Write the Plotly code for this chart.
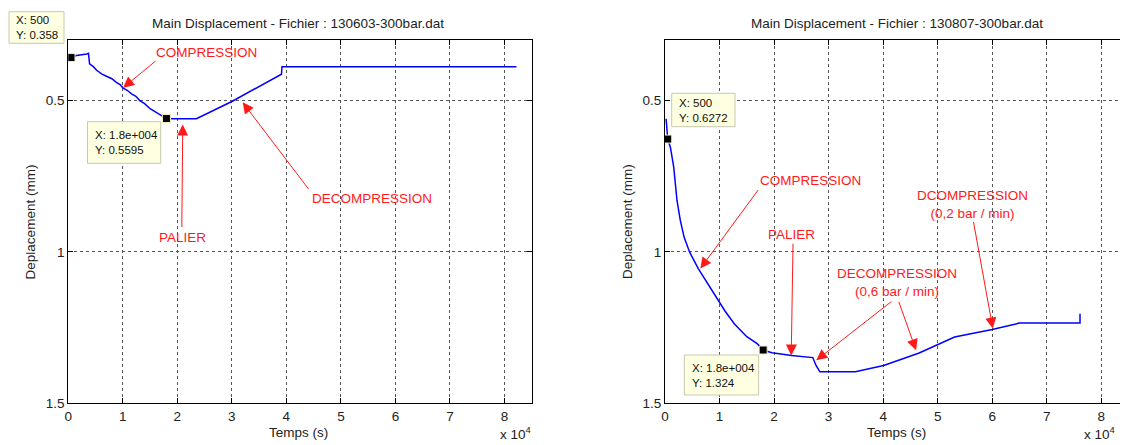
import plotly.graph_objects as go

# ---------------- data ----------------
# Left chart: 130603-300bar.dat  (time in s, displacement in mm)
left_time = [500, 1500, 3400, 3700, 3900, 4600, 5200, 6100, 6800, 7400, 8000,
             8800, 9500, 10000, 10800, 11600, 12400, 13100, 14000, 15000,
             16000, 17000, 18000, 19200, 23500, 30000, 39100, 39200, 82200]
left_disp = [0.358, 0.351, 0.346, 0.344, 0.379, 0.388, 0.400, 0.412, 0.418, 0.423, 0.428,
             0.440, 0.447, 0.458, 0.466, 0.478, 0.486, 0.500, 0.510, 0.527,
             0.537, 0.547, 0.5595, 0.560, 0.560, 0.503, 0.413, 0.388, 0.388]

# Right chart: 130807-300bar.dat
right_time = [200, 500, 1000, 1600, 2200, 2800, 3500, 4500, 6100, 8000, 9700,
              11000, 12700, 15000, 16900, 18000, 19600, 23200, 27100, 27700,
              28400, 34900, 40100, 46600, 53100, 60000, 65000, 76100, 76100]
right_disp = [0.56, 0.6272, 0.655, 0.72, 0.83, 0.895, 0.951, 1.0, 1.055, 1.11, 1.16,
              1.195, 1.237, 1.28, 1.303, 1.324, 1.333, 1.342, 1.349, 1.375,
              1.396, 1.396, 1.375, 1.334, 1.281, 1.256, 1.235, 1.235, 1.204]

# Data tips (MATLAB data cursors)
left_tip_time = [500, 18000]
left_tip_disp = [0.358, 0.5595]
left_tip_text = ["X: 500<br>Y: 0.358", "X: 1.8e+004<br>Y: 0.5595"]
right_tip_time = [500, 18000]
right_tip_disp = [0.6272, 1.324]
right_tip_text = ["X: 500<br>Y: 0.6272", "X: 1.8e+004<br>Y: 1.324"]

# Axis ticks
x_tick_vals = [0, 10000, 20000, 30000, 40000, 50000, 60000, 70000, 80000]
x_tick_text = ["0", "1", "2", "3", "4", "5", "6", "7", "8"]
y_tick_vals = [0.5, 1, 1.5]
y_tick_text = ["0.5", "1", "1.5"]

titles = ["Main Displacement - Fichier : 130603-300bar.dat",
          "Main Displacement - Fichier : 130807-300bar.dat"]
x_title = "Temps (s)"
y_title = "Deplacement (mm)"

# ---------------- layout helpers ----------------
# the page body has an 8px margin, so the figure is offset by (8, 8) in the window
OX, OY = 8, 8
W, H = 1128 - OX, 445 - OY
FONT = "Liberation Sans, Arial, Helvetica, sans-serif"


def px(x):
    return (x - OX) / W


def py(y):
    return 1 - (y - OY) / H


fig = go.Figure()

blue = dict(color="#0000ff", width=1.5)
tip_marker = dict(symbol="square", size=8, color="black",
                  line=dict(color="#f2f2c0", width=1))

fig.add_trace(go.Scatter(x=left_time, y=left_disp, mode="lines", line=blue,
                         xaxis="x", yaxis="y", showlegend=False))
fig.add_trace(go.Scatter(x=left_tip_time, y=left_tip_disp, mode="markers",
                         marker=tip_marker, xaxis="x", yaxis="y", showlegend=False))
fig.add_trace(go.Scatter(x=right_time, y=right_disp, mode="lines", line=blue,
                         xaxis="x2", yaxis="y2", showlegend=False))
fig.add_trace(go.Scatter(x=right_tip_time, y=right_tip_disp, mode="markers",
                         marker=tip_marker, xaxis="x2", yaxis="y2", showlegend=False))

tickfont = dict(family=FONT, size=13.5, color="#222")
common_x = dict(tickvals=x_tick_vals, ticktext=x_tick_text, ticks="inside", ticklen=5,
                tickcolor="black", showline=True, linecolor="black", linewidth=1,
                showgrid=True, gridcolor="#555", griddash="dot", gridwidth=1,
                zeroline=False, tickfont=tickfont, fixedrange=True, automargin=False)
common_y = dict(tickvals=y_tick_vals, ticktext=y_tick_text, ticks="inside", ticklen=5,
                tickcolor="black", showline=True, linecolor="black", linewidth=1,
                showgrid=True, gridcolor="#555", griddash="dot", gridwidth=1,
                zeroline=False, tickfont=tickfont, range=[1.5, 0.3], fixedrange=True,
                automargin=False)

fig.update_layout(
    width=W, height=H,
    margin=dict(l=0, r=0, t=0, b=0, autoexpand=False),
    paper_bgcolor="white", plot_bgcolor="white",
    font=dict(family=FONT, size=13.5, color="#222"),
    xaxis=dict(domain=[px(68.3), px(531.7)], range=[0, 85000], anchor="y",
               mirror="ticks", **common_x),
    yaxis=dict(domain=[py(403.3), py(40)], anchor="x", mirror="ticks", **common_y),
    xaxis2=dict(domain=[px(665), 1.0], range=[0, 84900], anchor="y2",
                mirror="ticks", **common_x),
    yaxis2=dict(domain=[py(403.3), py(40)], anchor="x2", mirror=False, **common_y),
)

ann = []
shapes = []

# titles and axis titles
for cx, t in zip([298, 896.8], titles):
    ann.append(dict(text=t, x=px(cx), y=py(24), xref="paper", yref="paper",
                    showarrow=False, xanchor="center", yanchor="middle",
                    font=dict(family=FONT, size=13.5, color="#222")))
    ann.append(dict(text=x_title, x=px(cx), y=py(432), xref="paper", yref="paper",
                    showarrow=False, xanchor="center", yanchor="middle",
                    font=dict(family=FONT, size=13.5, color="#222")))
for cx in [30.4, 627]:
    ann.append(dict(text=y_title, x=px(cx), y=py(222), xref="paper", yref="paper",
                    showarrow=False, textangle=-90, xanchor="center", yanchor="middle",
                    font=dict(family=FONT, size=13.5, color="#222")))
# x 10^4 exponent labels
ann.append(dict(text="x 10<sup>4</sup>", x=px(533), y=py(444), xref="paper", yref="paper",
                showarrow=False, xanchor="right", yanchor="bottom",
                font=dict(family=FONT, size=13.5, color="#222")))
ann.append(dict(text="x 10<sup>4</sup>", x=px(1117), y=py(444), xref="paper", yref="paper",
                showarrow=False, xanchor="right", yanchor="bottom",
                font=dict(family=FONT, size=13.5, color="#222")))

# data tip boxes (pixel boxes)
tip_boxes = [((9, 11.7, 64, 43.3), 14, left_tip_text[0]),
             ((87.5, 121.7, 160.7, 163.3), 92.5, left_tip_text[1]),
             ((671.7, 93.3, 735, 126.7), 676.5, right_tip_text[0]),
             ((684.3, 355, 758.6, 395), 689.5, right_tip_text[1])]
for (x0, y0, x1, y1), tx, txt in tip_boxes:
    shapes.append(dict(type="rect", xref="paper", yref="paper",
                       x0=px(x0), x1=px(x1), y0=py(y1), y1=py(y0),
                       fillcolor="#ffffe1", line=dict(color="#c8c8b0", width=1),
                       layer="above"))
    ann.append(dict(text=txt, x=px(tx), y=py((y0 + y1) / 2), xref="paper", yref="paper",
                    showarrow=False, xanchor="left", yanchor="middle", align="left",
                    font=dict(family=FONT, size=11.5, color="#111")))

red = "#ff1a1a"
redfont = dict(family=FONT, size=13.5, color=red)


def label(xr, yr, t, v, text):
    ann.append(dict(text=text, x=t, y=v, xref=xr, yref=yr, showarrow=False,
                    xanchor="center", yanchor="middle", font=redfont))


def arrow(xr, yr, t_tip, v_tip, t_tail, v_tail):
    ann.append(dict(text="", x=t_tip, y=v_tip, ax=t_tail, ay=v_tail,
                    xref=xr, yref=yr, axref=xr, ayref=yr, showarrow=True,
                    arrowhead=2, arrowsize=2.2, arrowwidth=1, arrowcolor=red))


# left chart labels
label("x", "y", 25400, 0.341, "COMPRESSION")
arrow("x", "y", 10050, 0.458, 16250, 0.366)
label("x", "y", 20900, 0.953, "PALIER")
arrow("x", "y", 20990, 0.579, 20820, 0.923)
label("x", "y", 55620, 0.824, "DECOMPRESSION")
arrow("x", "y", 31980, 0.506, 44270, 0.797)

# right chart labels
label("x2", "y2", 26690, 0.764, "COMPRESSION")
arrow("x2", "y2", 6480, 1.055, 17270, 0.791)
label("x2", "y2", 23260, 0.942, "PALIER")
arrow("x2", "y2", 23150, 1.342, 23480, 0.968)
label("x2", "y2", 42490, 1.10, "DECOMPRESSION<br>(0,6 bar / min)")
arrow("x2", "y2", 27730, 1.358, 41790, 1.16)
arrow("x2", "y2", 46040, 1.325, 42780, 1.16)
label("x2", "y2", 56360, 0.844, "DCOMPRESSION<br>(0,2 bar / min)")
arrow("x2", "y2", 60110, 1.253, 56520, 0.896)

fig.update_layout(annotations=ann, shapes=shapes)

fig.write_html("out.html")
